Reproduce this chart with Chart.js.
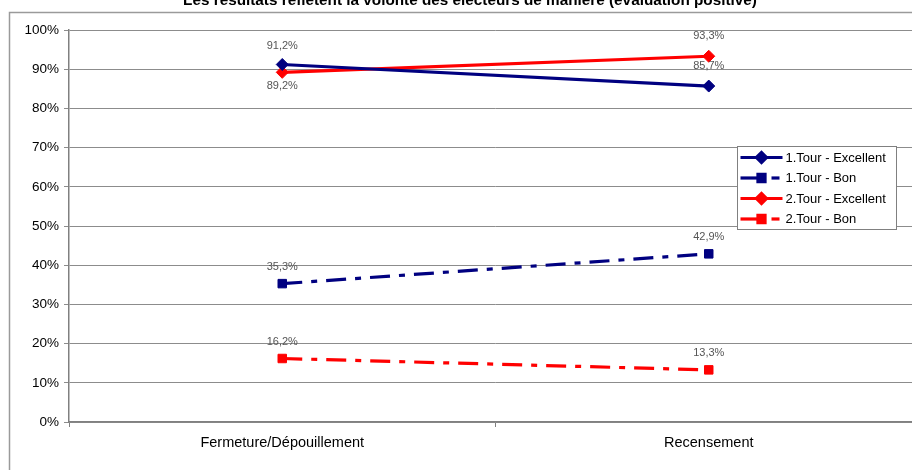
<!DOCTYPE html>
<html>
<head>
<meta charset="utf-8">
<script src="https://cdn.jsdelivr.net/npm/chart.js@4/dist/chart.umd.min.js"></script>
<style>
  html, body { margin: 0; padding: 0; background: #fff; overflow: hidden; width: 912px; height: 470px; }
  #wrap { position: absolute; left: 0; top: -10px; width: 930px; height: 490px; }
</style>
</head>
<body>
<div id="wrap"><canvas id="chart" width="930" height="490"></canvas></div>
<script>
const TITLE = "Les résultats reflètent la volonté des électeurs de manière (évaluation positive)"
const categories = ["Fermeture/Dépouillement", "Recensement"]
const tour1Excellent = [91.2, 85.7]
const tour1Bon       = [35.3, 42.9]
const tour2Excellent = [89.2, 93.3]
const tour2Bon       = [16.2, 13.3]
const yTicks = [0, 10, 20, 30, 40, 50, 60, 70, 80, 90, 100]

const FONT = "'Liberation Sans', Arial, sans-serif"
const NAVY = "#000080"
const RED  = "#ff0000"
const DASH_DOT = [20, 9, 6, 9]

// page chrome: cut-off title + grey frame round the chart
const framePlugin = {
  id: "frame",
  beforeDraw(chart) {
    const ctx = chart.ctx
    ctx.save()
    ctx.strokeStyle = "#9a9a9a"
    ctx.lineWidth = 1.5
    ctx.strokeRect(9.5, 22.5, 1000, 1000)
    ctx.fillStyle = "#000"
    ctx.font = "bold 15.3px " + FONT
    ctx.textAlign = "center"
    ctx.textBaseline = "middle"
    ctx.fillText(TITLE, 470, 11)
    ctx.restore()
  },
}

// value labels next to each point, "91,2%" style
const valueLabels = {
  id: "valueLabels",
  afterDatasetsDraw(chart) {
    const ctx = chart.ctx
    ctx.save()
    ctx.font = "11px " + FONT
    ctx.fillStyle = "#555"
    ctx.textAlign = "center"
    ctx.textBaseline = "middle"
    chart.data.datasets.forEach((ds, i) => {
      const meta = chart.getDatasetMeta(i)
      meta.data.forEach((pt, j) => {
        const off = ds.labelOffset[j]
        ctx.fillText(ds.data[j].toFixed(1).replace(".", ",") + "%", pt.x, pt.y + off)
      })
    })
    ctx.restore()
  },
}

// boxed legend drawn inside the plot, line + marker samples
const boxLegend = {
  id: "boxLegend",
  afterDraw(chart) {
    const ctx = chart.ctx
    const x0 = 737.5, y0 = 156.5, w = 159, h = 83
    ctx.save()
    ctx.fillStyle = "#fff"
    ctx.fillRect(x0, y0, w, h)
    ctx.strokeStyle = "#808080"
    ctx.lineWidth = 1
    ctx.strokeRect(x0, y0, w, h)
    chart.data.datasets.forEach((ds, i) => {
      const y = y0 + 11 + i * 20.5
      ctx.strokeStyle = ds.borderColor
      ctx.fillStyle = ds.borderColor
      ctx.lineWidth = ds.borderWidth
      if (ds.borderDash.length) {
        ctx.beginPath(); ctx.moveTo(x0 + 3, y); ctx.lineTo(x0 + 20, y); ctx.stroke()
        ctx.beginPath(); ctx.moveTo(x0 + 34, y); ctx.lineTo(x0 + 42, y); ctx.stroke()
      } else {
        ctx.beginPath(); ctx.moveTo(x0 + 3, y); ctx.lineTo(x0 + 45, y); ctx.stroke()
      }
      Chart.helpers.drawPoint(ctx, { pointStyle: ds.pointStyle, radius: ds.pointRadius - 1, borderWidth: 1 }, x0 + 24, y)
      ctx.fillStyle = "#000"
      ctx.font = "13px " + FONT
      ctx.textAlign = "left"
      ctx.textBaseline = "middle"
      ctx.fillText(ds.label, x0 + 48, y + 0.5)
    })
    ctx.restore()
  },
}

function series(label, data, color, dashed, labelOffset) {
  return {
    label, data, labelOffset,
    borderColor: color,
    backgroundColor: color,
    borderWidth: 3.2,
    borderDash: dashed ? DASH_DOT : [],
    pointStyle: dashed ? "rect" : "rectRot",
    pointRadius: 6,
    pointBorderWidth: 1,
    tension: 0,
  }
}

new Chart(document.getElementById("chart"), {
  type: "line",
  data: {
    labels: categories,
    datasets: [
      series("1.Tour - Excellent", tour1Excellent, NAVY, false, [-19, -20]),
      series("1.Tour - Bon",       tour1Bon,       NAVY, true,  [-17, -17]),
      series("2.Tour - Excellent", tour2Excellent, RED,  false, [14, -20]),
      series("2.Tour - Bon",       tour2Bon,       RED,  true,  [-17, -17]),
    ],
  },
  options: {
    responsive: false,
    devicePixelRatio: 1,
    animation: false,
    layout: { padding: { top: 40, right: 8, left: 0, bottom: 0 } },
    plugins: {
      legend: { display: false },
      title: { display: false },
      tooltip: { enabled: false },
    },
    scales: {
      x: {
        offset: true,
        grid: { display: true, drawOnChartArea: false, drawTicks: true, tickLength: 5, color: "#808080", offset: true },
        border: { color: "#808080", width: 1.5 },
        ticks: { color: "#000", font: { family: FONT, size: 14.5 }, padding: 7, maxRotation: 0 },
        afterFit: (s) => { s.height = 58 },
      },
      y: {
        min: 0, max: 100,
        afterBuildTicks: (s) => { s.ticks = yTicks.map(v => ({ value: v })) },
        grid: { color: "#8c8c8c", lineWidth: 1, tickLength: 5, drawTicks: true },
        border: { color: "#808080", width: 1.5 },
        ticks: { color: "#000", font: { family: FONT, size: 13.5 }, padding: 5, callback: (v) => v + "%" },
        afterFit: (s) => { s.width = 69 },
      },
    },
  },
  plugins: [framePlugin, valueLabels, boxLegend],
})
</script>
</body>
</html>
